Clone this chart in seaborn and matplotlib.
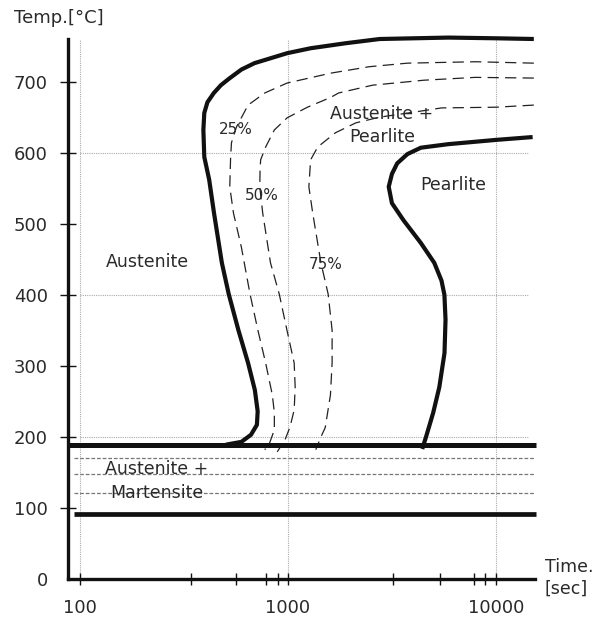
import matplotlib
matplotlib.use("Agg")
import matplotlib.pyplot as plt
import seaborn as sns
from matplotlib.ticker import NullFormatter

# ---------------- data ----------------
outer_time = [15200, 10000, 5900, 2760, 1890, 1285, 990, 690, 597, 520, 476, 440, 410, 396,
              392, 396, 418, 441, 481, 519, 578, 643, 693, 715, 709, 664, 597, 502]
outer_temp = [760, 761, 762, 760, 754, 747, 740, 726, 717, 704, 695, 684, 671, 656,
              632, 594, 562, 515, 445, 401, 350, 304, 266, 236, 217, 203, 193, 189]

pearl_time = [15000, 10000, 5900, 4350, 3750, 3350, 3160, 3050, 3160, 3590, 4350, 5050,
              5470, 5650, 5720, 5655, 5340, 4990, 4610, 4420]
pearl_temp = [622, 618, 612, 607, 598, 585, 570, 552, 529, 505, 473, 445,
              420, 400, 365, 318, 270, 234, 200, 183]

p25_time = [15200, 7960, 3750, 2460, 1610, 990, 773, 643, 565, 535, 530, 525, 547, 597,
            657, 717, 781, 841, 860, 860, 815, 773]
p25_temp = [726, 728, 726, 721, 712, 698, 684, 667, 636, 614, 594, 552, 515, 467,
            401, 350, 304, 259, 234, 210, 191, 182]

p50_time = [15200, 7960, 4500, 2550, 1750, 1610, 1240, 990, 860, 781, 739, 734, 732, 756,
            824, 908, 989, 1071, 1083, 1071, 1023, 968, 888]
p50_temp = [705, 706, 702, 695, 684, 678, 664, 649, 632, 608, 590, 575, 552, 515,
            445, 401, 350, 304, 270, 238, 214, 196, 179]

p75_time = [15200, 10000, 5470, 4020, 2760, 2120, 1690, 1390, 1285, 1260, 1315, 1440,
            1560, 1630, 1630, 1600, 1510, 1440, 1360]
p75_temp = [667, 664, 663, 657, 650, 642, 628, 608, 590, 552, 515, 445,
            401, 350, 304, 259, 213, 200, 182]

ms_temp = 189
mf_temp = 92
mart_levels = [170, 148, 121]

x_major = [100, 1000, 10000]
x_major_labels = ["100", "1000", "10000"]
x_minor = [340, 560, 780, 900, 3200, 5400, 7800, 8900]
y_ticks = [0, 100, 200, 300, 400, 500, 600, 700]

# ---------------- style ----------------
sns.set_style("white")
plt.rcParams["font.family"] = ["DejaVu Sans"]
txt = "#2a2a2a"

fig = plt.figure(figsize=(5.92, 6.21), dpi=100)
ax = fig.add_axes([68 / 592, 1 - 579 / 621, 467 / 592, 540 / 621])

ax.set_xscale("log")
ax.set_xlim(87.6, 15400)
ax.set_ylim(0, 760)

# grid (dotted)
ax.vlines(x_major, 0, 760, colors="#aaaaaa", linestyles=(0, (1, 1)), linewidth=0.8, zorder=0)
ax.hlines([200, 400, 600], 100, 14200, colors="#aaaaaa", linestyles=(0, (1, 1)),
          linewidth=0.8, zorder=0)

# martensite region lines
ax.hlines(mart_levels, 94, 15400, colors="#777777", linestyles=(0, (3, 1.5)),
          linewidth=0.9, zorder=1, clip_on=False)
ax.hlines(ms_temp, 87.6, 15500, colors="#111111", linewidth=3.6, zorder=3, clip_on=False)
ax.hlines(mf_temp, 94, 15500, colors="#111111", linewidth=3.4, zorder=3, clip_on=False)

# transformation curves
sns.lineplot(x=outer_time, y=outer_temp, sort=False, estimator=None, color="#111111",
             linewidth=3.0, ax=ax, clip_on=False, solid_joinstyle="round", solid_capstyle="butt")
sns.lineplot(x=pearl_time, y=pearl_temp, sort=False, estimator=None, color="#111111",
             linewidth=3.0, ax=ax, clip_on=False, solid_joinstyle="round", solid_capstyle="butt")
for tt, tp in [(p25_time, p25_temp), (p50_time, p50_temp), (p75_time, p75_temp)]:
    sns.lineplot(x=tt, y=tp, sort=False, estimator=None, color="#222222",
                 linewidth=0.9, linestyle=(0, (9, 5)), ax=ax, clip_on=False)

# axes styling
for s in ["top", "right"]:
    ax.spines[s].set_visible(False)
for s in ["left", "bottom"]:
    ax.spines[s].set_linewidth(2.4)
    ax.spines[s].set_color("#111111")

ax.set_xticks(x_major)
ax.set_xticklabels(x_major_labels)
ax.set_xticks(x_minor, minor=True)
ax.xaxis.set_minor_formatter(NullFormatter())
ax.set_yticks(y_ticks)
ax.set_yticklabels([str(v) for v in y_ticks])
ax.tick_params(axis="y", which="major", direction="inout", length=11, width=1,
               color="#111111", pad=9, labelsize=13, labelcolor=txt, left=True)
ax.tick_params(axis="x", which="both", direction="inout", length=9, width=1,
               color="#111111", pad=10, labelsize=13, labelcolor=txt, bottom=True)
ax.yaxis.get_major_ticks()[0].tick1line.set_visible(False)
ax.set_xlabel("")
ax.set_ylabel("")

# region labels
ax.text(562, 632, "25%", fontsize=11, color=txt, ha="center", va="center")
ax.text(750, 540, "50%", fontsize=11, color=txt, ha="center", va="center")
ax.text(1524, 442, "75%", fontsize=11, color=txt, ha="center", va="center")
ax.text(2831, 638, "Austenite +\nPearlite", fontsize=12.5, color=txt, ha="center",
        va="center", linespacing=1.35)
ax.text(6207, 555, "Pearlite", fontsize=12.5, color=txt, ha="center", va="center")
ax.text(212, 446, "Austenite", fontsize=12.5, color=txt, ha="center", va="center")
ax.text(234, 138, "Austenite +\nMartensite", fontsize=12.5, color=txt, ha="center",
        va="center", linespacing=1.4)

fig.text(14 / 592, 1 - 18 / 621, "Temp.[°C]", fontsize=13, color=txt, ha="left", va="center")
fig.text(545 / 592, 1 - 578 / 621, "Time.\n[sec]", fontsize=12.5, color=txt, ha="left",
         va="center", linespacing=1.3)

fig.savefig("out.png", dpi=100)
